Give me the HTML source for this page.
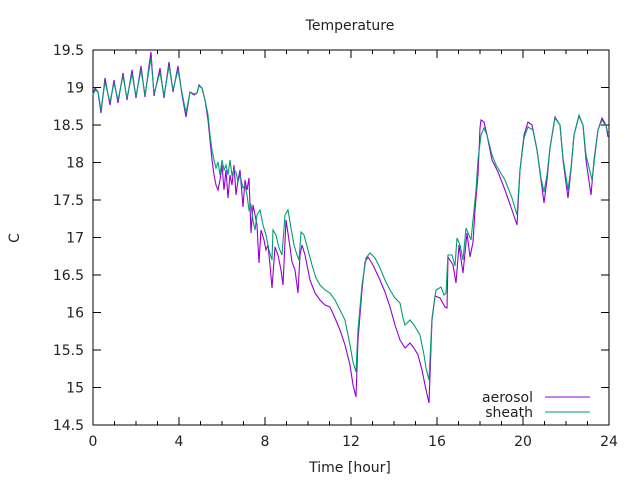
<!DOCTYPE html>
<html><head><style>body{margin:0;background:#fff}svg{display:block}text{font-family:"DejaVu Sans","Liberation Sans",sans-serif;font-size:14px;fill:#222}</style></head><body>
<svg width="640" height="480" viewBox="0 0 640 480" xmlns="http://www.w3.org/2000/svg">
<rect width="640" height="480" fill="#fff"/>
<g stroke="#000" stroke-width="1">
<path d="M93 50H609V425H93Z" fill="none"/>
<path d="M93 50h8M93 87.5h8M93 125h8M93 162.5h8M93 200h8M93 237.5h8M93 275h8M93 312.5h8M93 350h8M93 387.5h8M93 425h8M609 50h-8M609 87.5h-8M609 125h-8M609 162.5h-8M609 200h-8M609 237.5h-8M609 275h-8M609 312.5h-8M609 350h-8M609 387.5h-8"/>
<path d="M179 425v-8M265 425v-8M351 425v-8M437 425v-8M523 425v-8M179 50v8M265 50v8M351 50v8M437 50v8M523 50v8"/>
<path d="M114.5 425v-4M136 425v-4M157.5 425v-4M200.5 425v-4M222 425v-4M243.5 425v-4M286.5 425v-4M308 425v-4M329.5 425v-4M372.5 425v-4M394 425v-4M415.5 425v-4M458.5 425v-4M480 425v-4M501.5 425v-4M544.5 425v-4M566 425v-4M587.5 425v-4M114.5 50v4M136 50v4M157.5 50v4M200.5 50v4M222 50v4M243.5 50v4M286.5 50v4M308 50v4M329.5 50v4M372.5 50v4M394 50v4M415.5 50v4M458.5 50v4M480 50v4M501.5 50v4M544.5 50v4M566 50v4M587.5 50v4"/>
</g>
<g text-anchor="end">
<text x="84" y="55">19.5</text><text x="84" y="92.5">19</text><text x="84" y="130">18.5</text><text x="84" y="167.5">18</text><text x="84" y="205">17.5</text><text x="84" y="242.5">17</text><text x="84" y="280">16.5</text><text x="84" y="317.5">16</text><text x="84" y="355">15.5</text><text x="84" y="392.5">15</text><text x="84" y="430">14.5</text>
</g>
<g text-anchor="middle">
<text x="93" y="446">0</text><text x="179" y="446">4</text><text x="265" y="446">8</text><text x="351" y="446">12</text><text x="437" y="446">16</text><text x="523" y="446">20</text><text x="609" y="446">24</text>
<text x="350" y="472">Time [hour]</text>
<text x="350" y="30">Temperature</text>
<text x="0" y="0" transform="translate(19,238) rotate(-90)">C</text>
</g>
<g fill="none" stroke-width="1.1">
<polyline stroke="#9400d3" points="93,95 95,88 98,92 101,113 105,78 110,105 114,80 118,103 123,73 127,100 132,70 136,98 141,66 145,97 149,66 151,52 154,96 160,68 164,98 169,62 173,92 178,66 182,95 186,117 190,92 194,95 197,93 199,85 202,88 205,100 208,120 210,140 212,160 214,175 216,185 218,190 220,180 222,165 224,190 226,170 228,198 230,175 232,185 234,165 236,195 238,180 240,170 243,207 245,180 247,190 249,178 251,233 253,205 255,215 257,225 259,263 261,230 264,240 266,250 268,245 270,265 272,288 275,247 278,255 281,270 283,285 286,220 289,240 292,262 295,270 298,293 300,255 302,245 305,255 310,280 315,293 320,300 325,305 330,307 335,318 340,330 345,345 350,365 353,385 356,397 358,340 362,290 365,262 368,257 373,265 380,280 385,292 390,307 395,325 400,340 405,348 410,343 414,348 418,355 422,370 425,385 429,403 432,320 435,296 440,298 445,307 447,308 448,257 453,265 456,283 459,245 463,273 467,233 470,257 473,242 475,210 478,175 480,128 481,120 484,122 487,135 492,160 498,172 505,190 512,210 517,225 520,170 524,135 528,122 532,125 537,150 541,180 544,203 547,180 550,148 555,117 560,125 563,160 568,198 571,170 574,135 579,116 583,125 586,160 591,195 594,160 598,130 602,118 606,125 608,137"/>
<polyline stroke="#009e73" points="93,95 95,90 98,92 101,110 105,82 110,102 114,83 118,100 123,76 127,98 132,74 136,96 141,70 145,95 149,70 151,58 154,94 160,72 164,96 169,66 173,90 178,70 182,93 186,113 190,92 194,94 197,93 199,86 202,88 205,100 208,115 210,135 212,150 214,160 216,168 218,162 220,175 222,160 224,170 226,165 228,175 230,160 232,175 234,170 236,172 238,182 240,175 243,188 245,185 247,195 249,210 251,205 253,220 255,230 257,215 260,210 263,225 266,235 269,250 272,260 273,230 276,235 279,248 282,255 285,215 288,210 291,228 294,245 297,255 299,260 301,232 304,235 308,250 312,265 316,278 320,285 325,290 330,293 335,300 340,310 345,320 350,345 353,362 356,372 358,330 362,285 366,258 370,253 375,258 380,268 385,280 390,290 395,298 400,303 403,318 405,325 410,320 414,325 420,335 424,355 426,368 429,380 432,318 436,290 441,287 444,295 446,293 448,255 452,255 455,266 457,238 460,245 463,260 466,228 471,240 473,220 476,190 478,160 481,135 484,128 487,135 492,155 496,165 505,180 512,198 517,215 520,170 524,138 528,127 533,130 537,150 541,178 544,192 547,175 550,148 555,118 560,125 563,158 568,190 571,168 574,135 579,115 583,125 586,155 592,180 595,155 598,130 602,120 606,126 608,133"/>
<line x1="545" y1="397" x2="590" y2="397" stroke="#9400d3"/>
<line x1="545" y1="412" x2="590" y2="412" stroke="#009e73"/>
</g>
<g text-anchor="end"><text x="533" y="402">aerosol</text><text x="533" y="417">sheath</text></g>
</svg>
</body></html>
